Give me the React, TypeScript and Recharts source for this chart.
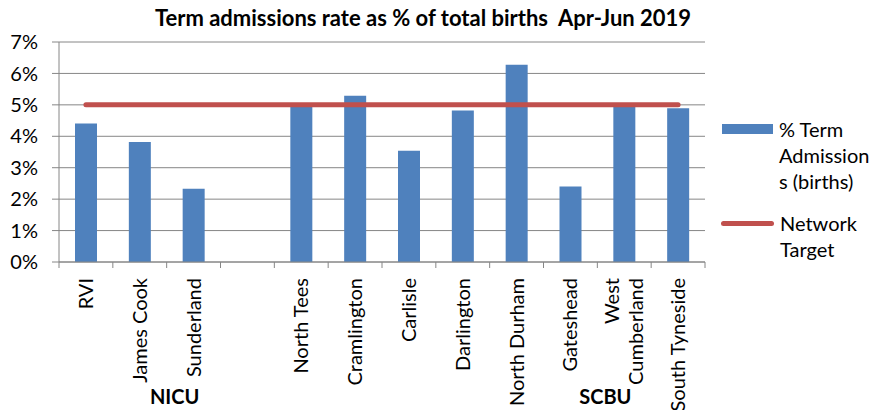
import React from "react";
import { Bar, CartesianGrid, ComposedChart, Legend, Line, XAxis, YAxis } from "recharts";

const units = [
  "RVI",
  "James Cook",
  "Sunderland",
  "",
  "North Tees",
  "Cramlington",
  "Carlisle",
  "Darlington",
  "North Durham",
  "Gateshead",
  "West Cumberland",
  "South Tyneside",
];
const admissionRate = [4.41, 3.82, 2.33, null, 4.98, 5.29, 3.54, 4.82, 6.28, 2.4, 4.98, 4.89];
const networkTarget = [5, 5, 5, 5, 5, 5, 5, 5, 5, 5, 5, 5];
const yTicks = [0, 1, 2, 3, 4, 5, 6, 7];
// group label sits between these two units
const groups = [
  { label: "NICU", after: "James Cook" },
  { label: "SCBU", after: "Gateshead" },
];

const W = 883;
const H = 410;
const M = { top: 42, right: 178, bottom: 0, left: 0 };
const Y_W = 59;
const BAND = (W - M.right - M.left - Y_W) / units.length;
const FONT = 20;
const AXIS = "#868686";

const data = units.map((unit, i) => ({
  unit,
  rate: admissionRate[i],
  target: networkTarget[i],
}));

function wrap(label: string) {
  if (label.length <= 14) return [label];
  const cut = label.lastIndexOf(" ");
  return [label.slice(0, cut), label.slice(cut + 1)];
}

function UnitTick({ x, y, payload, index }: any) {
  const lines = wrap(payload.value);
  const group = groups.find((g) => g.after === payload.value);
  return (
    <g>
      <line x1={x - BAND / 2} x2={x - BAND / 2} y1={y} y2={y + 6} stroke={AXIS} />
      {index === units.length - 1 && (
        <line x1={x + BAND / 2} x2={x + BAND / 2} y1={y} y2={y + 6} stroke={AXIS} />
      )}
      {lines.map((line, i) => {
        const cx = x + (i - (lines.length - 1) / 2) * 24;
        return (
          <text
            key={i}
            x={cx}
            y={y + 16}
            dy="0.35em"
            textAnchor="end"
            fontSize={FONT}
            fill="#000"
            transform={`rotate(-90, ${cx}, ${y + 16})`}
          >
            {line}
          </text>
        );
      })}
      {group && (
        <text
          x={x + BAND / 2 + 8}
          y={y + 135}
          dy="0.35em"
          textAnchor="middle"
          fontSize={FONT}
          fontWeight="bold"
          fill="#000"
        >
          {group.label}
        </text>
      )}
    </g>
  );
}

function SeriesLegend({ payload }: any) {
  return (
    <div style={{ fontSize: FONT, lineHeight: "26px", color: "#000" }}>
      {(payload ?? []).map((entry: any, i: number) => (
        <div key={entry.value} style={{ display: "flex", marginTop: i ? 16 : 0 }}>
          <span
            style={{
              width: entry.type === "line" ? 53 : 51,
              height: entry.type === "line" ? 5 : 10,
              marginTop: entry.type === "line" ? 10.5 : 8,
              marginLeft: entry.type === "line" ? 1 : 2,
              borderRadius: entry.type === "line" ? 3 : 0,
              background: entry.color,
              flexShrink: 0,
            }}
          />
          <span style={{ marginLeft: 6, width: 94, overflowWrap: "anywhere" }}>{entry.value}</span>
        </div>
      ))}
    </div>
  );
}

export default function App() {
  return (
    <div
      style={{
        position: "absolute",
        left: 0,
        top: 0,
        width: W,
        height: H,
        fontFamily: "Lato, sans-serif",
        background: "#fff",
      }}
    >
      <div
        style={{
          position: "absolute",
          left: 0,
          width: 846,
          top: 6,
          textAlign: "center",
          fontSize: 22,
          fontWeight: "bold",
          lineHeight: "24px",
          whiteSpace: "pre",
        }}
      >
        {"Term admissions rate as % of total births  Apr-Jun 2019"}
      </div>
      <ComposedChart width={W} height={H} data={data} margin={M}>
        <CartesianGrid vertical={false} stroke={AXIS} />
        <XAxis
          dataKey="unit"
          interval={0}
          height={148}
          tickSize={0}
          tickMargin={0}
          tickLine={false}
          axisLine={{ stroke: AXIS }}
          tick={<UnitTick />}
        />
        <YAxis
          domain={[0, 7]}
          ticks={yTicks}
          width={Y_W}
          tickSize={7}
          tickMargin={14}
          tickFormatter={(v) => `${v}%`}
          axisLine={{ stroke: AXIS }}
          tickLine={{ stroke: AXIS }}
          tick={{ fill: "#000", fontSize: FONT }}
        />
        <Legend
          layout="horizontal"
          align="center"
          verticalAlign="middle"
          wrapperStyle={{ left: 720, top: 116, width: 162 }}
          content={<SeriesLegend />}
        />
        <Bar
          dataKey="rate"
          name="% Term Admissions (births)"
          fill="#4F81BD"
          barSize={22}
          legendType="rect"
          isAnimationActive={false}
        />
        <Line
          dataKey="target"
          name="Network Target"
          type="linear"
          stroke="#C0504D"
          strokeWidth={5}
          strokeLinecap="round"
          dot={false}
          activeDot={false}
          legendType="line"
          isAnimationActive={false}
        />
      </ComposedChart>
    </div>
  );
}
